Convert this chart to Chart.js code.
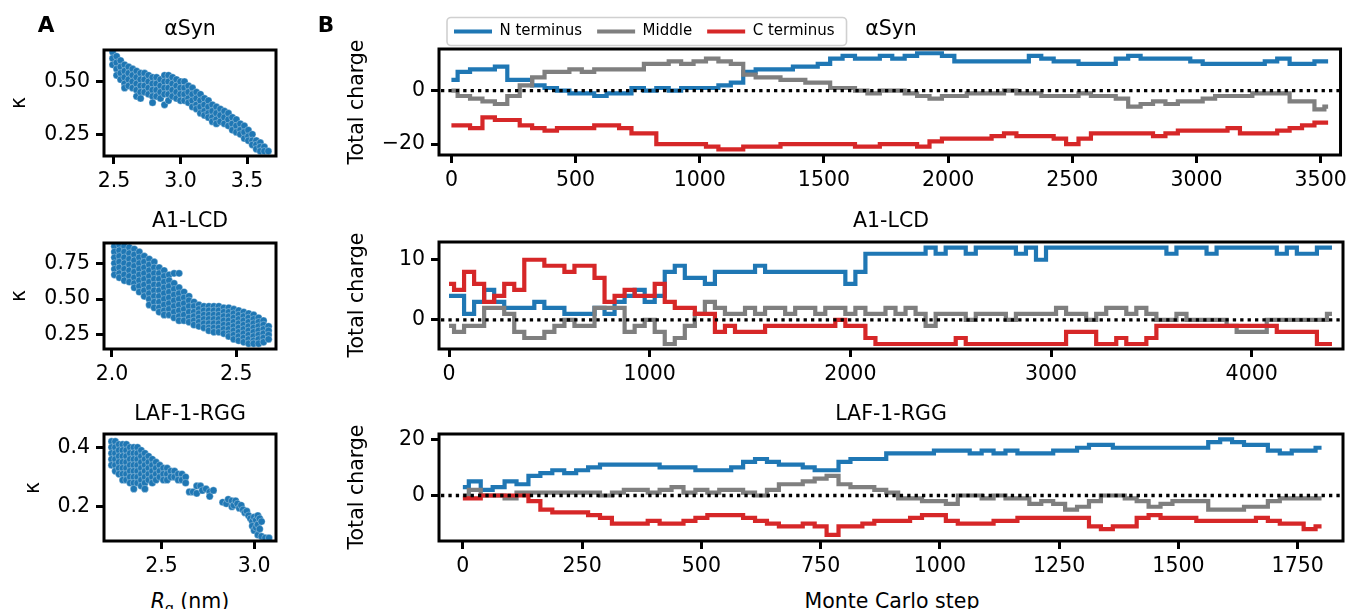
<!DOCTYPE html>
<html>
<head>
<meta charset="utf-8">
<script src="https://cdn.jsdelivr.net/npm/chart.js@4.4.1/dist/chart.umd.min.js"></script>
<style>
body { margin: 0; background: #fff; }
#fig { position: relative; width: 1352px; height: 609px; overflow: hidden; font-family: "DejaVu Sans"; }
canvas { position: absolute; }
.t { position: absolute; transform: translate(-50%, -50%); font-size: 20.5px; line-height: 1; white-space: nowrap; color: #000; }
.r { transform: translate(-50%, -50%) rotate(-90deg); }
.b { font-weight: bold; font-size: 21.5px; }
</style>
</head>
<body>
<div id="fig">
  <canvas id="c1" width="300" height="196" style="left:0;top:0"></canvas>
  <canvas id="c2" width="300" height="189" style="left:0;top:200px"></canvas>
  <canvas id="c3" width="300" height="181" style="left:0;top:400px"></canvas>
  <canvas id="c4" width="1012" height="195" style="left:340px;top:0"></canvas>
  <canvas id="c5" width="1012" height="189" style="left:340px;top:200px"></canvas>
  <canvas id="c6" width="1012" height="181" style="left:340px;top:400px"></canvas>

  <div class="t b" style="left:46px;top:25px">A</div>
  <div class="t b" style="left:326px;top:25px">B</div>

  <div class="t" style="left:190px;top:28px">αSyn</div>
  <div class="t" style="left:190px;top:220px">A1-LCD</div>
  <div class="t" style="left:190px;top:413px">LAF-1-RGG</div>
  <div class="t" style="left:891px;top:28px">αSyn</div>
  <div class="t" style="left:891px;top:220px">A1-LCD</div>
  <div class="t" style="left:891px;top:413px">LAF-1-RGG</div>

  <div class="t r" style="left:18px;top:103px">κ</div>
  <div class="t r" style="left:18px;top:296px">κ</div>
  <div class="t r" style="left:32px;top:488px">κ</div>
  <div class="t r" style="left:356px;top:102px">Total charge</div>
  <div class="t r" style="left:356px;top:295px">Total charge</div>
  <div class="t r" style="left:356px;top:487px">Total charge</div>

  <div class="t" style="left:190px;top:601px"><i>R</i><sub style="font-size:14px;line-height:0">g</sub> (nm)</div>
  <div class="t" style="left:892px;top:601px">Monte Carlo step</div>
</div>
<script>
var synRg = [2.49,2.52,2.55,2.58,2.61,2.64,2.67,2.70,2.73,2.76,2.79,2.82,2.85,2.88,2.91,2.94,2.97,3.00,3.03,3.06,
             3.09,3.12,3.15,3.18,3.21,3.24,3.27,3.30,3.33,3.36,3.39,3.42,3.45,3.48,3.51,3.54,3.57,3.60,3.63,3.66];
var synKappa = [
  [.64,.61,.58],[.62,.59,.56,.53],[.60,.57,.54,.51],[.58,.55,.52,.49,.47],[.57,.54,.51,.48],
  [.56,.53,.50,.47],[.55,.52,.49,.46,.43],[.54,.51,.48,.45,.42],[.54,.51,.48,.45],[.53,.50,.47,.44],
  [.52,.49,.46,.43,.40],[.52,.49,.46,.43],[.51,.48,.45,.42],[.53,.50,.47,.44,.39],[.53,.50,.47,.44,.41],
  [.52,.49,.46,.43],[.51,.48,.45,.42],[.50,.47,.44,.41],[.50,.47,.44,.41],[.48,.45,.42,.40],
  [.47,.44,.41,.38],[.45,.42,.39,.37],[.44,.41,.38,.35],[.42,.39,.36,.34],[.41,.38,.35,.33],
  [.39,.36,.33,.31],[.38,.35,.32,.30],[.37,.34,.31],[.36,.33,.30],[.35,.32,.29],
  [.33,.30,.27],[.32,.29,.26],[.30,.27,.25],[.29,.26,.23],[.27,.24,.22],
  [.25,.22,.20],[.22,.20,.18],[.21,.19,.17],[.19,.17],[.17]
];

var a1Rg = [2.01,2.03,2.05,2.07,2.09,2.11,2.13,2.15,2.17,2.19,2.21,2.23,2.25,2.27,2.29,2.31,
            2.33,2.35,2.37,2.39,2.41,2.43,2.45,2.47,2.49,2.51,2.53,2.55,2.57,2.59,2.61,2.63];
var a1Kappa = [
  [.87,.83,.79,.75,.71,.67],[.88,.84,.80,.76,.72,.68,.65],[.87,.83,.79,.75,.71,.67,.63],
  [.86,.82,.78,.74,.70,.66,.62],[.85,.81,.77,.73,.69,.65,.61,.58],[.83,.79,.75,.71,.67,.63,.59,.55],
  [.80,.76,.72,.68,.64,.60,.56,.52],[.78,.74,.70,.66,.62,.58,.54,.50,.46],[.76,.72,.68,.64,.60,.56,.52,.48,.44],
  [.72,.68,.64,.60,.56,.52,.48,.44,.41],[.70,.66,.62,.58,.54,.50,.46,.42,.39],[.67,.63,.59,.55,.51,.47,.43,.39],
  [.68,.61,.57,.53,.49,.45,.41,.37],[.68,.58,.54,.50,.46,.42,.38,.35],[.55,.51,.47,.43,.39,.35],
  [.52,.49,.45,.41,.37,.34],[.48,.45,.41,.38,.35,.32],[.46,.43,.40,.37,.34,.31],
  [.45,.42,.39,.36,.33,.30],[.45,.42,.39,.36,.33,.30,.28],[.45,.42,.39,.36,.33,.30,.27],
  [.45,.42,.39,.36,.33,.30,.27],[.44,.41,.38,.35,.32,.29,.26],[.44,.41,.38,.35,.32,.29,.26,.24],
  [.43,.40,.37,.34,.31,.28,.25,.22],[.42,.39,.36,.33,.30,.27,.24,.21],[.41,.38,.35,.32,.29,.26,.23,.20],
  [.40,.37,.34,.31,.28,.25,.22,.19],[.39,.36,.33,.30,.27,.24,.21,.19],[.37,.34,.31,.28,.25,.22,.19],
  [.35,.32,.29,.26,.23,.20],[.31,.28,.25,.22]
];

var lafRg = [2.23,2.25,2.27,2.29,2.31,2.33,2.35,2.37,2.39,2.41,2.43,2.45,2.47,2.49,2.51,2.53,2.55,2.57,2.59,2.61,2.63,
             2.65,2.67,2.69,2.71,2.72,2.74,2.76,2.78,
             2.83,2.85,2.86,2.88,2.89,2.90,2.91,2.92,2.93,2.94,2.95,2.96,
             2.97,2.98,2.99,3.00,3.01,3.02,3.03,3.04,3.06,3.08];
var lafKappa = [
  [.42,.40,.38,.36,.34],[.42,.40,.38,.36,.34,.32],[.41,.39,.37,.35,.33,.31],[.41,.39,.37,.35,.33,.31,.29],
  [.41,.39,.37,.35,.33,.31,.29],[.40,.38,.36,.34,.32,.30,.28],[.40,.38,.36,.34,.32,.30,.28,.26],
  [.40,.38,.36,.34,.32,.30,.28],[.39,.37,.35,.33,.31,.29,.27],[.38,.36,.34,.32,.30,.28,.26],
  [.37,.35,.33,.31,.29],[.36,.34,.32,.30,.28],[.35,.33,.31,.29],[.34,.32,.30],[.33,.31,.29],[.33,.31,.29],
  [.32,.30],[.32,.30],[.31,.29],[.31,.29],[.30,.28],
  [.25],[.25],[.27,.245],[.27],[.255],[.26],[.25,.235],[.255],
  [.215],[.21],[.225],[.22,.20],[.205],[.22],[.21],[.195],[.205],[.19],[.18],[.185],
  [.17],[.16],[.15,.135],[.165,.12],[.155,.13],[.17,.14,.105],[.16,.125],[.15,.10],[.095],[.095]
];

// ---- data: total charge vs Monte Carlo step ----
var synSteps = [0,50,100,150,200,250,300,350,400,450,500,550,600,650,700,750,800,850,900,950,
  1000,1050,1100,1150,1200,1250,1300,1350,1400,1450,1500,1550,1600,1650,1700,1750,1800,1850,1900,1950,
  2000,2050,2100,2150,2200,2250,2300,2350,2400,2450,2500,2550,2600,2650,2700,2750,2800,2850,2900,2950,
  3000,3050,3100,3150,3200,3250,3300,3350,3400,3450,3500,3530];
var synN = [4,7,8,8,9,4,4,2,1,0, -1,-1,-2,-1,-1,1,0,1,0,1, 1,1,2,3,7,8,8,8,9,9,
  10,12,13,12,12,13,12,13,14,14, 13,11,11,11,11,11,11,13,12,11, 11,10,10,10,12,13,12,12,12,12,
  11,10,10,10,10,10,11,12,10,10, 11,11];
var synMid = [0,-2,-3,-4,-5,-2,2,5,7,7, 8,7,8,8,8,8,10,10,11,10, 11,12,11,10,6,5,5,4,4,3,
  3,1,1,0,-1,0,0,-1,-2,-3, -2,-2,-1,-1,-1,0,-1,-1,-2,-2, -2,-1,-2,-2,-3,-6,-5,-4,-5,-4,
  -4,-3,-2,-2,-2,-1,-1,-1,-4,-4, -7,-6];
var synC = [-13,-13,-14,-10,-11,-11,-13,-14,-15,-14, -14,-14,-13,-13,-14,-16,-16,-20,-20,-20,
  -20,-21,-22,-22,-21,-21,-21,-20,-20,-20, -20,-20,-20,-21,-21,-20,-20,-20,-21,-19,
  -18,-18,-18,-18,-17,-16,-17,-17,-17,-18, -20,-18,-16,-16,-16,-16,-16,-17,-16,-15,
  -15,-15,-15,-14,-16,-16,-16,-15,-14,-13, -12,-12];

var a1Steps = [0,50,100,150,200,250,300,350,400,450,500,550,600,650,700,750,800,850,900,950,
  1000,1050,1100,1150,1200,1250,1300,1350,1400,1450,1500,1550,1600,1650,1700,1750,1800,1850,1900,1950,
  2000,2050,2100,2150,2200,2250,2300,2350,2400,2450,2500,2550,2600,2650,2700,2750,2800,2850,2900,2950,
  3000,3050,3100,3150,3200,3250,3300,3350,3400,3450,3500,3550,3600,3650,3700,3750,3800,3850,3900,3950,
  4000,4050,4100,4150,4200,4250,4300,4350,4400];
var a1N = [4,4,1,3,5,3,2,2,2,3, 2,2,1,1,1,2,1,3,4,5, 3,4,8,9,7,7,6,8,8,8,
  8,9,8,8,8,8,8,8,8,8, 6,8,11,11,11,11,11,11,12,11, 12,12,11,12,12,12,12,11,12,10,
  12,12,12,12,12,12,12,12,12,12, 12,12,11,12,12,12,11,12,12,12, 12,12,12,11,12,11,11,12,12];
var a1Mid = [-1,-2,-1,-1,2,2,1,-2,-3,-3, -2,-1,0,-1,-1,2,2,2,-2,-1, 0,-2,-4,-3,-1,1,3,2,1,1,
  2,1,2,2,1,2,2,1,2,2, 1,2,1,1,2,1,2,1,-1,1, 1,1,0,1,1,1,0,1,1,1,
  1,2,1,1,0,1,2,2,1,2, 1,0,0,1,0,0,0,0,-1,-2, -2,-2,0,0,0,0,0,0,1];
var a1C = [6,5,8,6,3,4,6,5,10,10, 9,9,8,9,9,7,3,4,5,4, 4,6,3,2,2,1,1,-2,-1,-2,
  -2,-2,-1,-1,-1,-1,-1,-1,-1,0, -1,-1,-3,-4,-4,-4,-4,-4,-4,-4, -4,-3,-4,-4,-4,-4,-4,-4,-4,-4,
  -4,-4,-2,-2,-2,-4,-4,-3,-4,-4, -3,-1,-1,-1,-1,-1,-1,-1,-1,-1, -1,-1,-1,-2,-2,-2,-2,-4,-4];

var lafSteps = [0,25,50,75,100,125,150,175,200,225,250,275,300,325,350,375,400,425,450,475,
  500,525,550,575,600,625,650,675,700,725,750,775,800,825,850,875,900,925,950,975,
  1000,1025,1050,1075,1100,1125,1150,1175,1200,1225,1250,1275,1300,1325,1350,1375,1400,1425,1450,1475,
  1500,1525,1550,1575,1600,1625,1650,1675,1700,1725,1750,1775,1800];
var lafN = [3,5,2,3,5,4,7,8,9,8, 9,10,11,11,11,11,11,10,10,10, 9,9,9,10,12,13,12,11,11,10,
  9,9,12,13,13,13,15,15,15,15, 16,16,16,15,16,15,16,15,15,15, 16,16,17,18,18,17,17,17,17,17,
  17,17,17,19,20,19,18,18,16,15, 16,16,17];
var lafMid = [0,2,0,0,-1,1,1,1,1,1, 1,1,0,1,2,2,1,2,3,1, 2,1,2,2,1,0,2,4,4,5,
  6,7,4,3,3,2,1,-1,-1,-2, -2,-3,0,0,-1,0,-1,-1,-3,-2, -3,-5,-4,-2,0,0,-1,-2,-4,-3,
  -2,-2,-2,-5,-5,-5,-4,-4,-2,-1, -1,-1,-1];
var lafC = [-1,-1,0,0,0,0,-2,-5,-6,-6, -6,-7,-8,-10,-10,-10,-9,-10,-10,-9, -8,-7,-7,-7,-8,-9,-10,-11,-11,-10,
  -11,-14,-11,-11,-10,-9,-9,-9,-8,-7, -7,-9,-10,-10,-10,-9,-9,-8,-8,-8, -8,-8,-8,-11,-12,-11,-11,-8,-7,-8,
  -8,-8,-9,-9,-9,-9,-9,-8,-9,-10, -10,-12,-11];

// ---- ticks ----
var synRgTicks = [2.5, 3.0, 3.5], synKTicks = [0.25, 0.50];
var a1RgTicks = [2.0, 2.5], a1KTicks = [0.25, 0.50, 0.75];
var lafRgTicks = [2.5, 3.0], lafKTicks = [0.2, 0.4];
var synStepTicks = [0,500,1000,1500,2000,2500,3000,3500], synChargeTicks = [-20, 0];
var a1StepTicks = [0,1000,2000,3000,4000], a1ChargeTicks = [0, 10];
var lafStepTicks = [0,250,500,750,1000,1250,1500,1750], lafChargeTicks = [0, 20];

var series = ['N terminus', 'Middle', 'C terminus'];
var colors = ['#1f77b4', '#7f7f7f', '#d62728'];

Chart.defaults.font.family = 'DejaVu Sans';
Chart.defaults.font.size = 20.5;
Chart.defaults.color = '#000';

function minus(v) { return v < 0 ? '\u2212' + Math.abs(v) : String(v); }

function cloud(rg, kappa) {
  var pts = [];
  for (var i = 0; i < rg.length; i++) {
    for (var j = 0; j < kappa[i].length; j++) pts.push({x: rg[i], y: kappa[i][j]});
  }
  return pts;
}

function trace(steps, vals) {
  return steps.map(function(s, i) { return {x: s, y: vals[i]}; });
}

var boxPlugin = {
  id: 'box',
  afterDatasetsDraw: function(chart, args, opts) {
    var ctx = chart.ctx, a = chart.chartArea;
    ctx.save();
    ctx.strokeStyle = '#000';
    if (opts.zero) {
      var y = chart.scales.y.getPixelForValue(0);
      ctx.lineWidth = 3.3;
      ctx.setLineDash([3.3, 4.1]);
      ctx.beginPath(); ctx.moveTo(a.left + 2, y); ctx.lineTo(a.right, y); ctx.stroke();
      ctx.setLineDash([]);
    }
    ctx.lineWidth = 3;
    ctx.strokeRect(a.left, a.top, a.right - a.left, a.bottom - a.top);
    ctx.restore();
  }
};

var legendFrame = {
  id: 'legendFrame',
  afterDraw: function(chart) {
    var lg = chart.legend;
    if (!lg || !lg.options.display || !lg.legendHitBoxes.length) return;
    var hb = lg.legendHitBoxes, first = hb[0], last = hb[hb.length - 1];
    var x0 = first.left - 7, x1 = last.left + last.width + 12;
    var yc = first.top + first.height / 2;
    var ctx = chart.ctx;
    ctx.save();
    ctx.strokeStyle = '#d0d0d0';
    ctx.lineWidth = 1.6;
    ctx.beginPath();
    ctx.roundRect(x0, yc - 14, x1 - x0, 28, 4);
    ctx.stroke();
    ctx.restore();
  }
};

function axis(min, max, ticks, fmt, size, isX) {
  return {
    type: 'linear', min: min, max: max, bounds: 'data',
    afterBuildTicks: function(s) { s.ticks = ticks.map(function(v) { return {value: v}; }); },
    afterFit: function(s) { if (isX) s.height = size; else s.width = size; },
    grid: { drawOnChartArea: false, tickLength: 8, tickWidth: 3, tickColor: '#000', color: '#000' },
    border: { display: false },
    ticks: { padding: isX ? 5 : 6, maxRotation: 0, minRotation: 0, autoSkip: false, color: '#000',
             font: { size: 20.5 }, callback: fmt }
  };
}

function scatterPanel(id, rg, kappa, xr, xt, xf, yr, yt, yf, padTop) {
  new Chart(document.getElementById(id), {
    type: 'scatter',
    data: { datasets: [{
      data: cloud(rg, kappa),
      backgroundColor: '#1f77b4', borderColor: 'rgba(255,255,255,0.5)', borderWidth: 0.6,
      pointRadius: 3.6
    }]},
    options: {
      responsive: false, animation: false, devicePixelRatio: 1, events: [],
      layout: { padding: { top: padTop, right: 24, left: 0, bottom: 0 } },
      scales: { x: axis(xr[0], xr[1], xt, xf, 40, true), y: axis(yr[0], yr[1], yt, yf, 104, false) },
      plugins: { legend: { display: false }, tooltip: { enabled: false }, box: { zero: false } }
    },
    plugins: [boxPlugin]
  });
}

function chargePanel(id, steps, n, mid, c, xr, xt, yr, yt, padTop, showLegend) {
  var vals = [n, mid, c];
  var datasets = vals.map(function(v, k) {
    return {
      label: series[k], data: trace(steps, v), order: 3 - k,
      borderColor: colors[k], backgroundColor: colors[k], borderWidth: 4.2,
      pointRadius: 0, stepped: 'middle', fill: false
    };
  });
  new Chart(document.getElementById(id), {
    type: 'line',
    data: { datasets: datasets },
    options: {
      responsive: false, animation: false, devicePixelRatio: 1, events: [],
      layout: { padding: { top: padTop, right: 9, left: 0, bottom: 0 } },
      scales: {
        x: axis(xr[0], xr[1], xt, function(v) { return String(v); }, 40, true),
        y: axis(yr[0], yr[1], yt, minus, 99, false)
      },
      plugins: {
        tooltip: { enabled: false },
        box: { zero: true },
        legend: {
          display: showLegend, position: 'top', align: 'start', fullSize: false,
          labels: {
            boxWidth: 38, boxHeight: 4, padding: 15, color: '#000', font: { size: 15 },
            sort: function(a, b) { return a.datasetIndex - b.datasetIndex; },
            generateLabels: function(chart) {
              return Chart.defaults.plugins.legend.labels.generateLabels(chart).map(function(l) {
                l.lineWidth = 0; return l;
              });
            }
          }
        }
      }
    },
    plugins: [boxPlugin, legendFrame]
  });
}

var f1 = function(v) { return v.toFixed(1); };
var f2 = function(v) { return v.toFixed(2); };

scatterPanel('c1', synRg, synKappa, [2.425, 3.718], synRgTicks, f1, [0.147, 0.650], synKTicks, f2, 50);
scatterPanel('c2', a1Rg, a1Kappa, [1.968, 2.660], a1RgTicks, f1, [0.152, 0.892], a1KTicks, f2, 43);
scatterPanel('c3', lafRg, lafKappa, [2.189, 3.118], lafRgTicks, f1, [0.0845, 0.445], lafKTicks, f1, 34);

chargePanel('c4', synSteps, synN, synMid, synC, [-50, 3580], synStepTicks, [-24.1, 15.6], synChargeTicks, 9, true);
chargePanel('c5', a1Steps, a1N, a1Mid, a1C, [-50, 4455], a1StepTicks, [-4.83, 12.95], a1ChargeTicks, 42, false);
chargePanel('c6', lafSteps, lafN, lafMid, lafC, [-50, 1845], lafStepTicks, [-16.2, 21.9], lafChargeTicks, 34, false);
</script>
</body>
</html>
